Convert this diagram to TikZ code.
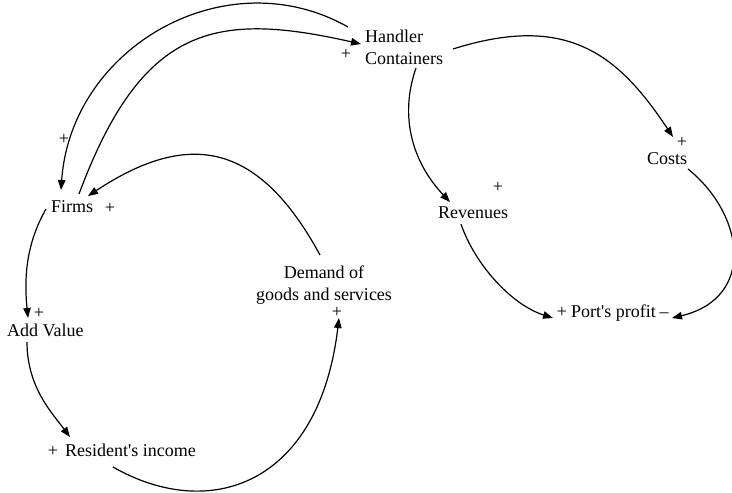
\documentclass[tikz,border=0pt]{standalone}
\usepackage{fontspec}
\setmainfont{Liberation Serif}
\usetikzlibrary{arrows.meta}
\begin{document}
\begin{tikzpicture}[x=1pt,y=-1pt,
  lbl/.style={inner sep=0pt,font=\fontsize{18}{22}\selectfont},
  pol/.style={inner sep=0pt,font=\fontsize{18}{22}\selectfont},
  link/.style={line width=1.2pt,-{Triangle[length=10pt,width=7.5pt]}}]
\useasboundingbox[fill=white] (0,0) rectangle (732,493);
% variables
\node[lbl,anchor=base west] (hc) at (365,42) {\begin{tabular}[t]{@{}l@{}}Handler\\Containers\end{tabular}};
\node[lbl,anchor=base west] (firms) at (51,212) {Firms};
\node[lbl,anchor=base west] (costs) at (647,164) {Costs};
\node[lbl,anchor=base west] (rev) at (438,218) {Revenues};
\node[lbl,anchor=base west] (profit) at (571,317) {Port\textquotesingle s profit};
\node[lbl,anchor=base west] (addv) at (7,336) {Add Value};
\node[lbl,anchor=base west] (inc) at (65,456) {Resident\textquotesingle s income};
\node[lbl,anchor=base] (dem) at (324,278) {\begin{tabular}[t]{@{}c@{}}Demand of\\goods and services\end{tabular}};
% polarity signs
\node[pol] (p1) at (346,54) {+};
\node[pol] (p2) at (64,139) {+};
\node[pol] (p3) at (110,208) {+};
\node[pol] (p4) at (39,313) {+};
\node[pol] (p5) at (53,451) {+};
\node[pol] (p6) at (337,312) {+};
\node[pol] (p7) at (498,187) {+};
\node[pol] (p8) at (682,142) {+};
\node[pol,anchor=base] (p9) at (562,317) {+};
\node[pol,anchor=base] (p10) at (664,317) {\textendash};
% links
\draw[link] ([shift={(-17,-15)}]hc.base west) .. controls (226,-42) and (71,47) .. ([shift={(10,-22)}]firms.base west);
\draw[link] ([shift={(28,-18)}]firms.base west) .. controls (142,25) and (215,11) .. ([shift={(-4,2)}]hc.base west);
\draw[link] ([shift={(-4,-23)}]dem.base) .. controls (258,141) and (188,130) .. ([shift={(37,-16)}]firms.base west);
\draw[link] ([shift={(-5,-3)}]firms.base west) .. controls (26,244) and (24,278) .. ([shift={(21,-18)}]addv.base west);
\draw[link] ([shift={(20,6)}]addv.base west) .. controls (27,387) and (52,413) .. ([shift={(5,-19)}]inc.base west);
\draw[link] ([shift={(48,11)}]inc.base west) .. controls (209,522) and (319,486) .. ([shift={(15,40)}]dem.base);
\draw[link] ([shift={(51,26)}]hc.base west) .. controls (398,120) and (415,165) .. ([shift={(12,-16)}]rev.base west);
\draw[link] ([shift={(88,7)}]hc.base west) .. controls (567,13) and (618,54) .. ([shift={(26,-27)}]costs.base west);
\draw[link] ([shift={(23,6)}]rev.base west) .. controls (475,265) and (512,305) .. ([shift={(-18,1)}]profit.base west);
\draw[link] ([shift={(41,5)}]costs.base west) .. controls (745,215) and (756,298) .. ([shift={(101,1)}]profit.base west);
\end{tikzpicture}
\end{document}
